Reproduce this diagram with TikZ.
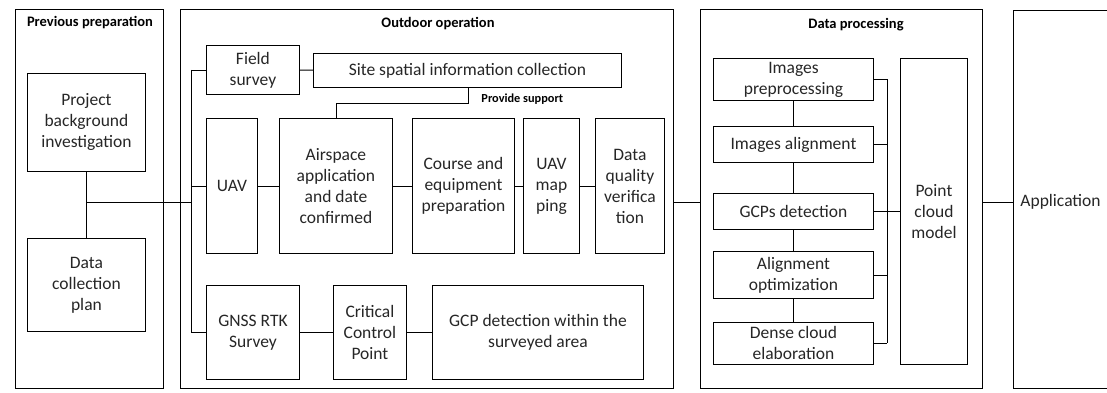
\documentclass[tikz,border=0pt]{standalone}
\usepackage{fontspec}
\setmainfont{Carlito}
\usetikzlibrary{positioning}

\tikzset{
  panel/.style={draw, line width=0.9pt, anchor=north west, inner sep=0pt},
  box/.style={draw, line width=0.9pt, anchor=north west, align=center,
              inner sep=1pt, text=black!85, font=\fontsize{17.5}{21}\selectfont},
  ttl/.style={font=\bfseries\fontsize{14.5}{16}\selectfont, inner sep=0pt},
  lbl/.style={font=\bfseries\fontsize{12.3}{14}\selectfont, inner sep=0pt},
}

\begin{document}
\begin{tikzpicture}[x=1pt,y=-1pt,line width=0.9pt]
  \useasboundingbox (0,0) rectangle (1107,392);

  % panels
  \node[panel, minimum width=148, minimum height=379] (prep) at (15,9) {};
  \node[panel, minimum width=493, minimum height=379] (outd) at (180,9) {};
  \node[panel, minimum width=282, minimum height=379] (dp)   at (700,9) {};
  \draw (1110,10) -- (1013,10) -- (1013,388) -- (1110,388);

  \node[ttl] (prepT) at (90,23)  {Previous preparation};
  \node[ttl] (outdT) at (438,24) {Outdoor operation};
  \node[ttl] (dpT)   at (856,25) {Data processing};

  % previous preparation
  \node[box, minimum width=118, minimum height=98] (proj) at (27,73)
       {Project\\background\\investigation};
  \node[box, minimum width=118, minimum height=93] (plan) at (27,238)
       {Data\\collection\\plan};

  % outdoor operation
  \node[box, minimum width=93, minimum height=49]  (fs)   at (206,45)  {Field\\survey};
  \node[box, minimum width=308, minimum height=34] (site) at (313,53)
       {Site spatial information collection};
  \node[box, minimum width=51, minimum height=135]  (uav)    at (206,118) {UAV};
  \node[box, minimum width=113, minimum height=135] (air)    at (279,118)
       {Airspace\\application\\and date\\confirmed};
  \node[box, minimum width=102, minimum height=135] (course) at (412,118)
       {Course and\\equipment\\preparation};
  \node[box, minimum width=56, minimum height=135]  (map)    at (523,118)
       {UAV\\map\\ping};
  \node[box, minimum width=69, minimum height=135]  (dq)     at (595,118)
       {Data\\quality\\verifica\\tion};
  \node[box, minimum width=93, minimum height=94]  (gnss) at (206,285)
       {GNSS RTK\\Survey};
  \node[box, minimum width=73, minimum height=94]  (ccp)  at (333,285)
       {Critical\\Control\\Point};
  \node[box, minimum width=211, minimum height=94] (gcpa) at (432,285)
       {GCP detection within the\\surveyed area};

  % data processing
  \node[box, minimum width=160, minimum height=42] (pre) at (713,58)
       {Images\\preprocessing};
  \node[box, minimum width=160, minimum height=36] (ali) at (713,126)
       {Images alignment};
  \node[box, minimum width=160, minimum height=36] (gcp) at (713,193)
       {GCPs detection};
  \node[box, minimum width=160, minimum height=47] (opt) at (713,251)
       {Alignment\\optimization};
  \node[box, minimum width=160, minimum height=42] (den) at (713,322)
       {Dense cloud\\elaboration};
  \node[box, minimum width=67, minimum height=306] (pcm) at (900,58)
       {Point\\cloud\\model};

  \node[box, draw=none, anchor=west] (appT) at (1019,202) {Application};

  % connectors
  \coordinate (ob)   at (191,202);
  \coordinate (sup)  at (468,103);
  \coordinate (pb)   at (887,211);
  \coordinate (appl) at (1013,202);

  \draw (proj) -- (plan);
  \draw (proj.south |- ob) -- (ob);
  \draw (fs.west -| ob) -- (gnss.west -| ob);
  \foreach \n in {fs,uav,gnss}
    \draw (\n.west -| ob) -- (\n.west);
  \draw (fs) -- (site);
  \draw (site.south -| sup) -- (sup) -| (air.north);
  \node[lbl, anchor=west] (supT) at (481,99) {Provide support};
  \draw (uav) -- (air) -- (course) -- (map) -- (dq);
  \draw (gnss) -- (ccp) -- (gcpa);

  \draw (outd.east |- ob) -- (dp.west |- ob);
  \draw (pre) -- (ali) -- (gcp) -- (opt) -- (den);
  \draw (pre.east -| pb) -- (den.east -| pb);
  \foreach \n in {pre,ali,gcp,opt,den}
    \draw (\n.east) -- (\n.east -| pb);
  \draw (pb) -- (pcm.west |- pb);
  \draw (dp.east |- ob) -- (appl);
\end{tikzpicture}
\end{document}
